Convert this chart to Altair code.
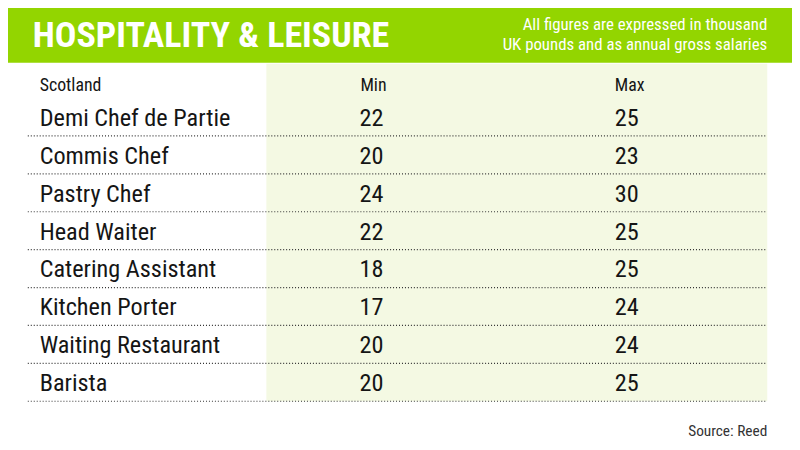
import altair as alt
import pandas as pd

roles = ["Demi Chef de Partie", "Commis Chef", "Pastry Chef", "Head Waiter",
         "Catering Assistant", "Kitchen Porter", "Waiting Restaurant", "Barista"]
min_vals = [22, 20, 24, 22, 18, 17, 20, 20]
max_vals = [25, 23, 30, 25, 25, 24, 24, 25]
headers = ["Scotland", "Min", "Max"]
title_text = "HOSPITALITY & LEISURE"
subtitle_lines = ["All figures are expressed in thousand", "UK pounds and as annual gross salaries"]
source_text = "Source: Reed"

FONT = "Roboto Condensed, Noto Sans Condensed, DejaVu Sans Condensed, sans-serif"
TFONT = "Roboto Condensed, Noto Sans Condensed, DejaVu Sans Condensed, sans-serif"
GREEN = "#93d500"
PANEL = "#f4f9e3"
INK = "#151515"

df = pd.DataFrame({"role": roles, "min": min_vals, "max": max_vals})
one = pd.DataFrame({"k": [0]})

yscale = alt.Scale(domain=roles, range=[88.7, 395], paddingInner=0, paddingOuter=0)

band = alt.Chart(one).mark_rect(color=GREEN).encode(
    x=alt.value(-8), x2=alt.value(800), y=alt.value(-8), y2=alt.value(53))
panel = alt.Chart(one).mark_rect(color=PANEL).encode(
    x=alt.value(261), x2=alt.value(767), y=alt.value(54), y2=alt.value(395))

rules = alt.Chart(df).mark_rule(color="#333333", strokeDash=[1, 2], strokeWidth=1.2).encode(
    y=alt.Y("role:N", scale=yscale, axis=None, bandPosition=1),
    x=alt.value(20), x2=alt.value(767))

def col_text(field, xpos):
    return alt.Chart(df).mark_text(font=FONT, fontSize=24.5, color=INK, align="left",
                                   baseline="middle", dy=2).encode(
        y=alt.Y("role:N", scale=yscale, axis=None, bandPosition=0.5),
        x=alt.value(xpos), text=alt.Text(field))

labels = col_text("role:N", 32)
mins = col_text("min:Q", 355)
maxs = col_text("max:Q", 613)

hdr_df = pd.DataFrame({"h": headers, "xp": [32, 356, 613]})
hdr_layers = [
    alt.Chart(hdr_df.iloc[[i]]).mark_text(font=FONT, fontSize=18, color=INK, align="left",
                                           baseline="middle").encode(
        x=alt.value(float(hdr_df.xp[i])), y=alt.value(77), text="h:N")
    for i in range(len(headers))
]

title = alt.Chart(pd.DataFrame({"t": [title_text]})).mark_text(
    font=TFONT, fontSize=36.3, fontWeight="bold", color="white", align="left",
    baseline="alphabetic").encode(x=alt.value(25), y=alt.value(37), text="t:N")

sub = alt.Chart(pd.DataFrame({"t": subtitle_lines, "yy": [20, 40]})).mark_text(
    font=FONT, fontSize=17, color="white", align="right", baseline="alphabetic").encode(
    x=alt.value(767), y=alt.Y("yy:Q", scale=alt.Scale(domain=[0, 442], range=[0, 442]), axis=None),
    text="t:N")

src = alt.Chart(pd.DataFrame({"t": [source_text]})).mark_text(
    font=FONT, fontSize=15.5, color="#333333", align="right", baseline="middle").encode(
    x=alt.value(767), y=alt.value(425), text="t:N")

chart = alt.layer(band, panel, rules, labels, mins, maxs, *hdr_layers, title, sub, src).properties(
    width=792, height=442, padding=0, autosize=alt.AutoSizeParams(type="none"),
    background="white"
).resolve_scale(y="independent").configure_view(strokeWidth=0)

chart.save("out.html", embed_options={"renderer": "svg", "actions": False})
